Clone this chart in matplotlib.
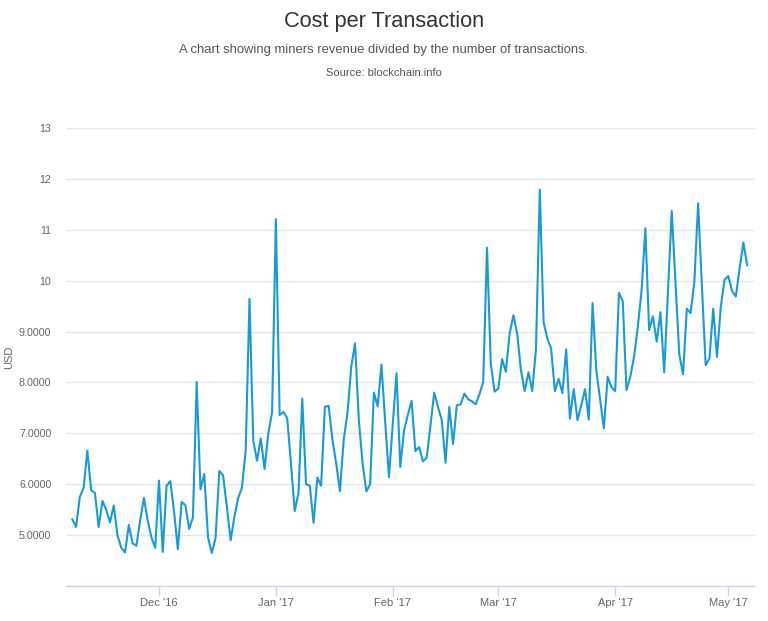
import matplotlib
matplotlib.use("Agg")
import matplotlib.pyplot as plt
import matplotlib.dates as mdates
import numpy as np

plt.rcParams['font.family'] = ['Liberation Sans', 'DejaVu Sans']

title = "Cost per Transaction"
subtitle = "A chart showing miners revenue divided by the number of transactions."
source = "Source: blockchain.info"
y_label = "USD"

start_date = "2016-11-08"
values = [
    5.31, 5.16, 5.75, 5.93, 6.66, 5.88, 5.83, 5.16, 5.67, 5.50,
    5.25, 5.58, 4.99, 4.75, 4.66, 5.20, 4.84, 4.79, 5.29, 5.73,
    5.29, 4.95, 4.75, 6.07, 4.67, 5.97, 6.06, 5.46, 4.72, 5.65,
    5.59, 5.12, 5.35, 8.01, 5.90, 6.20, 4.96, 4.65, 4.94, 6.26,
    6.17, 5.56, 4.90, 5.36, 5.73, 5.93, 6.67, 9.64, 6.86, 6.46,
    6.90, 6.30, 7.00, 7.42, 11.21, 7.36, 7.42, 7.30, 6.41, 5.47,
    5.83, 7.68, 6.00, 5.97, 5.24, 6.13, 5.97, 7.52, 7.54, 6.87,
    6.41, 5.86, 6.88, 7.40, 8.31, 8.77, 7.26, 6.41, 5.86, 6.00,
    7.80, 7.53, 8.35, 7.22, 6.14, 7.18, 8.18, 6.34, 7.06, 7.36,
    7.64, 6.65, 6.73, 6.45, 6.52, 7.15, 7.80, 7.52, 7.26, 6.42,
    7.52, 6.79, 7.55, 7.57, 7.78, 7.67, 7.63, 7.57, 7.77, 8.01,
    10.65, 8.37, 7.82, 7.88, 8.46, 8.21, 8.96, 9.32, 8.96, 8.24,
    7.83, 8.20, 7.83, 8.67, 11.79, 9.19, 8.86, 8.67, 7.83, 8.07,
    7.79, 8.65, 7.29, 7.87, 7.26, 7.55, 7.87, 7.27, 9.56, 8.23,
    7.66, 7.10, 8.11, 7.91, 7.83, 9.76, 9.60, 7.85, 8.11, 8.50,
    9.09, 9.81, 11.03, 9.03, 9.30, 8.80, 9.38, 8.20, 9.80, 11.37,
    9.95, 8.55, 8.16, 9.45, 9.36, 9.98, 11.52, 9.90, 8.34, 8.47,
    9.45, 8.50, 9.48, 10.02, 10.09, 9.80, 9.69, 10.24, 10.75, 10.30,
]
y_ticks = [5, 6, 7, 8, 9, 10, 11, 12, 13]
y_tick_labels = ["5.0000", "6.0000", "7.0000", "8.0000", "9.0000", "10", "11", "12", "13"]
x_tick_dates = ["2016-12-01", "2017-01-01", "2017-02-01", "2017-03-01", "2017-04-01", "2017-05-01"]
x_tick_labels = ["Dec '16", "Jan '17", "Feb '17", "Mar '17", "Apr '17", "May '17"]

dates = np.datetime64(start_date) + np.arange(len(values)).astype("timedelta64[D]")

fig = plt.figure(figsize=(7.68, 6.21), dpi=100)
ax = fig.add_axes([66/768, 1 - 586/621, (755-66)/768, (586-128)/621])

ax.plot(dates.astype("datetime64[ms]").astype(object), values, color="#1a9ad6", lw=1.5, solid_joinstyle="round")

ax.set_ylim(4, 13)
ax.set_yticks(y_ticks)
ax.set_yticklabels(y_tick_labels)
x0 = np.datetime64(start_date) - np.timedelta64(40, "h")
x1 = np.datetime64(start_date) + np.timedelta64(181 * 24 + 2, "h")
ax.set_xlim(mdates.date2num(x0.astype("datetime64[ms]").astype(object)),
            mdates.date2num(x1.astype("datetime64[ms]").astype(object)))
xt = [mdates.date2num(np.datetime64(d).astype("datetime64[ms]").astype(object)) for d in x_tick_dates]
ax.set_xticks(xt)
ax.set_xticklabels(x_tick_labels)

ax.grid(axis="y", color="#e6e6e6", lw=1)
ax.set_axisbelow(True)
for s in ["top", "right", "left"]:
    ax.spines[s].set_visible(False)
ax.spines["bottom"].set_color("#ccd6eb")
ax.spines["bottom"].set_linewidth(1)

ax.tick_params(axis="y", length=0, pad=10.5, labelsize=7.7, labelcolor="#666666")
ax.tick_params(axis="x", length=7, width=1, color="#ccd6eb", pad=2, labelsize=8, labelcolor="#666666")

ax.set_ylabel(y_label, color="#666666", fontsize=8)
ax.yaxis.set_label_coords(-52/689, 0.5)

fig.text(0.5, 1 - 21/621, title, ha="center", va="center", fontsize=15.7, color="#333333")
fig.text(0.5, 1 - 50/621, subtitle, ha="center", va="center", fontsize=9.4, color="#555555")
fig.text(0.5, 1 - 73/621, source, ha="center", va="center", fontsize=8, color="#555555")

fig.savefig("out.png", dpi=100)
